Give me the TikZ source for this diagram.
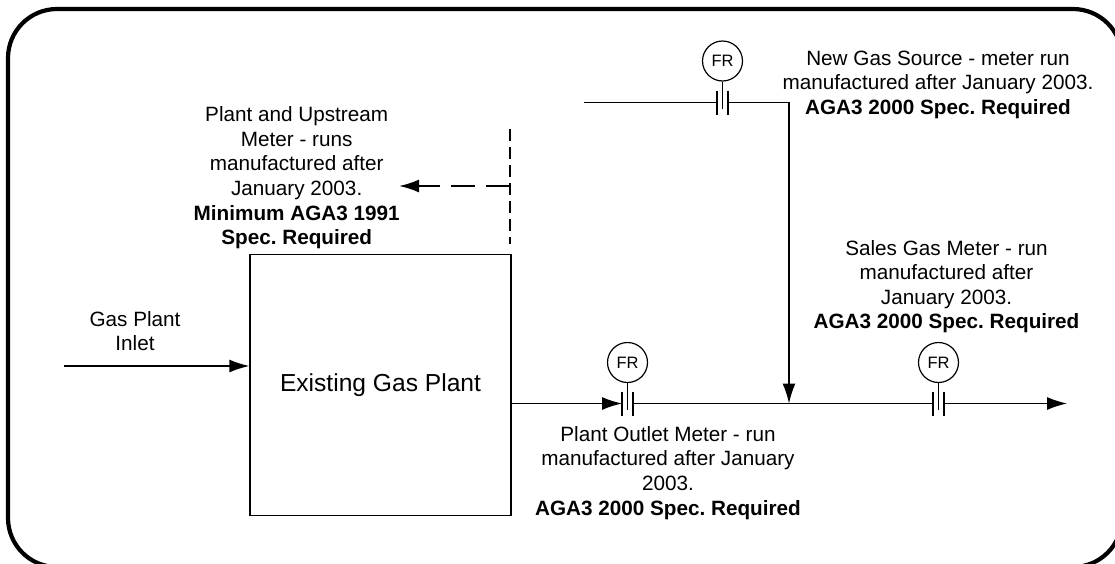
\documentclass[tikz,border=0pt]{standalone}
\usepackage{fontspec}
\setmainfont{Liberation Sans}
\usepackage{tikz}
\usetikzlibrary{arrows.meta, calc, positioning}
\frenchspacing
\begin{document}
\begin{tikzpicture}[
        x=1pt, y=-1pt,
        every node/.style={font=\fontsize{20.7}{24.6}\selectfont},
        pipe/.style={line width=1.4pt},
        flow/.style={pipe, -{Latex[length=20pt, width=13pt]}},
        fr/.style={draw, circle, line width=1.2pt, minimum size=40pt, inner sep=0pt,
                   font=\fontsize{16.5}{20}\selectfont},
        plate/.style={line width=1.2pt},
        note/.style={align=center, inner sep=0pt},
      ]
      \useasboundingbox (0,0) rectangle (1115,563);
      \begin{scope}
      \clip (0,0) rectangle (1115,563);
      % Rahmen
      \draw[line width=4.2pt, rounded corners=49pt] (8,9) rectangle (1122,567);
      \end{scope}

      % Anlage
      \node[draw, pipe, minimum width=261pt, minimum height=261pt, inner sep=0pt,
            font=\fontsize{24.6}{28}\selectfont] (plant) at (380.5,385) {Existing Gas Plant};

      % Einlass
      \coordinate (inlet) at (64,366);
      \draw[flow] (inlet) -- (inlet -| plant.west);
      \node[note] (inletlabel) at (135,331) {Gas Plant\\Inlet};

      % Auslass, Messstelle 1
      \coordinate (outleta) at (622,403.5);
      \coordinate (outletb) at (633,403.5);
      \coordinate (tee) at (789,403.5);
      \coordinate (salesa) at (933,403.5);
      \coordinate (salesb) at (944,403.5);
      \coordinate (outend) at (1067,403.5);
      \node[fr] (frplant) at (627.5,362.5) {FR};
      \node[fr] (frsales) at (938.5,362.5) {FR};
      \draw[flow] (plant.east |- outleta) -- (outleta);
      \draw[pipe] (outletb) -- (salesa);
      \draw[flow] (salesb) -- (outend);

      % neue Quelle
      \coordinate (newin) at (584,102.5);
      \coordinate (newa) at (717,102.5);
      \coordinate (newb) at (728,102.5);
      \coordinate (newcorner) at (789,102.5);
      \node[fr] (frnew) at (722.5,61) {FR};
      \draw[pipe] (newin) -- (newa);
      \draw[flow] (newb) -- (newcorner) -- (tee);

      % Blenden
      \foreach \mname/\ma/\mb in {frplant/outleta/outletb, frsales/salesa/salesb, frnew/newa/newb} {
        \draw[plate] (\ma)+(0,-12) -- +(0,12);
        \draw[plate] (\mb)+(0,-12) -- +(0,12);
        \draw[plate] (\mname.south) -- ($(\ma)!0.5!(\mb)+(0,6)$);
      }

      % gestrichelt
      \coordinate (limtop) at (510,129);
      \coordinate (limbot) at (510,244);
      \coordinate (limmid) at (510,186);
      \coordinate (limend) at (399,186);
      \draw[line width=2pt, dash pattern=on 12pt off 6pt] (limtop) -- (limbot);
      \draw[line width=2pt, dash pattern=on 24pt off 11pt, -{Latex[length=20pt, width=13pt]}] (limmid) -- (limend);

      % Texte
      \node[note] (newlabel) at (938,84.8) {New Gas Source - meter run\\manufactured after January 2003.\\\textbf{AGA3 2000 Spec. Required}};
      \node[note] (upstreamlabel) at (296.7,177.8) {Plant and Upstream\\Meter - runs\\manufactured after\\January 2003.\\\textbf{Minimum AGA3 1991}\\\textbf{Spec. Required}};
      \node[note] (saleslabel) at (946.5,286.7) {Sales Gas Meter - run\\manufactured after\\January 2003.\\\textbf{AGA3 2000 Spec. Required}};
      \node[note] (outletlabel) at (668,472.8) {Plant Outlet Meter - run\\manufactured after January\\2003.\\\textbf{AGA3 2000 Spec. Required}};
    \end{tikzpicture}
\end{document}
